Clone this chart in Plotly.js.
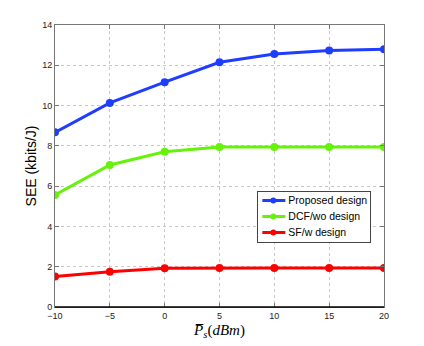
<!DOCTYPE html>
<html>
<head>
<meta charset="utf-8">
<script src="https://cdn.plot.ly/plotly-3.0.1.min.js"></script>
<style>
  html, body { margin: 0; padding: 0; background: #fff; }
  #chart { width: 424px; height: 346px; }
</style>
</head>
<body>
<div id="chart"></div>
<script>
const powerDbm = [-10, -5, 0, 5, 10, 15, 20];
const proposed = [8.67, 10.13, 11.16, 12.15, 12.56, 12.73, 12.80];
const dcfWo = [5.56, 7.05, 7.71, 7.94, 7.94, 7.94, 7.94];
const sfW = [1.51, 1.75, 1.92, 1.94, 1.94, 1.94, 1.94];
const seriesNames = ['Proposed design', 'DCF/wo design', 'SF/w design'];
const xTicks = [-10, -5, 0, 5, 10, 15, 20];
const yTicks = [0, 2, 4, 6, 8, 10, 12, 14];

const colors = ['#1f3dff', '#66f20a', '#ff0000'];
const values = [proposed, dcfWo, sfW];

const traces = values.map((ys, i) => ({
    x: powerDbm,
    y: ys,
    type: 'scatter',
    mode: 'lines+markers',
    name: seriesNames[i],
    line: { color: colors[i], width: 3 },
    marker: { color: colors[i], size: 8 },
}));

const axisBase = {
    showline: true,
    mirror: 'ticks',
    linecolor: '#777',
    linewidth: 1,
    ticks: 'inside',
    ticklen: 4,
    tickcolor: '#777',
    showgrid: true,
    gridcolor: '#c8c8c8',
    griddash: 'dot',
    gridwidth: 1,
    zeroline: false,
    tickfont: { family: 'Liberation Sans, Arial, sans-serif', size: 9, color: '#222' },
};

const layout = {
    width: 424,
    height: 346,
    margin: { l: 55, r: 40, t: 25, b: 39 },
    paper_bgcolor: '#fff',
    plot_bgcolor: '#fff',
    showlegend: true,
    legend: {
        x: 0.615, y: 0.41, xanchor: 'left', yanchor: 'top',
        bgcolor: '#fff',
        bordercolor: '#444',
        borderwidth: 1,
        font: { family: 'Liberation Sans, Arial, sans-serif', size: 10.5, color: '#000' },
        tracegroupgap: 0,
        itemwidth: 30,
    },
    shapes: [{
        type: 'line', xref: 'paper', yref: 'paper',
        x0: 0, x1: 1, y0: 0, y1: 0,
        line: { color: '#000', width: 1.3 },
    }],
    xaxis: Object.assign({}, axisBase, {
        range: [-10, 20],
        tickvals: xTicks,
        ticktext: xTicks.map(v => v < 0 ? '\u2212' + Math.abs(v) : String(v)),
        title: {
            text: '<i>P\u0305<sub>s</sub></i>(<i>dBm</i>)',
            font: { family: 'Liberation Serif, DejaVu Serif, serif', size: 15, color: '#000' },
            standoff: 4,
        },
    }),
    yaxis: Object.assign({}, axisBase, {
        range: [0, 14],
        tickvals: yTicks,
        title: {
            text: 'SEE (kbits/J)',
            font: { family: 'Liberation Sans, Arial, sans-serif', size: 14, color: '#000' },
            standoff: 2,
        },
    }),
};

Plotly.newPlot('chart', traces, layout, { displayModeBar: false, responsive: false }).then(function () {
    // compact legend box like the original: shorter sample lines, tighter rows
    document.querySelectorAll('.legend .traces').forEach(function (row, i) {
        row.setAttribute('transform', 'translate(1,' + (9 + i * 16) + ')');
        row.querySelectorAll('.legendlines path').forEach(function (p) {
            p.setAttribute('d', 'M4,0h23');
        });
        row.querySelectorAll('.legendpoints path').forEach(function (p) {
            p.setAttribute('transform', 'translate(15,0)');
            p.setAttribute('d', 'M3,0A3,3 0 1,1 0,-3A3,3 0 0,1 3,0Z');
        });
        row.querySelectorAll('.legendtext').forEach(function (t) {
            t.setAttribute('x', 30);
        });
    });
    const bg = document.querySelector('.legend .bg');
    if (bg) {
        bg.setAttribute('height', 51);
        bg.setAttribute('width', 113);
    }
});
</script>
</body>
</html>
